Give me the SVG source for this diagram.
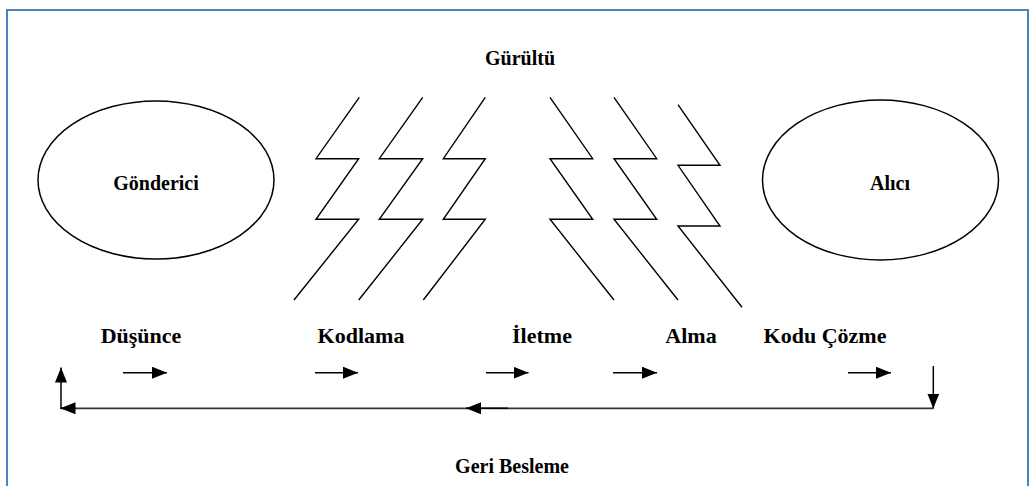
<svg xmlns="http://www.w3.org/2000/svg" width="1034" height="486" viewBox="0 0 1034 486">
<style>
  .lbl{font-family:"Liberation Serif","Times New Roman",serif;font-weight:bold;fill:#000;text-anchor:middle}
  .big{font-size:22px}
  .mid{font-size:20px}
  .node{fill:#fff;stroke:#000;stroke-width:1.5}
  .zz{fill:none;stroke:#000;stroke-width:1.4;stroke-linejoin:miter}
  .ar{fill:none;stroke:#000;stroke-width:1.5}
  .fb{fill:none;stroke:#333;stroke-width:1.8}
</style>
<defs>
  <marker id="ah" markerUnits="userSpaceOnUse" markerWidth="15" markerHeight="12" refX="15" refY="6" orient="auto">
    <path d="M0,0 L15,6 L0,12 z" fill="#000"/>
  </marker>
</defs>
<rect x="0" y="0" width="1034" height="486" fill="#fff"/>
<rect x="7" y="10" width="1021" height="490" fill="none" stroke="#4f81bd" stroke-width="2"/>

<text class="lbl mid" x="520" y="65">Gürültü</text>

<g id="gonderici">
  <ellipse class="node" cx="156" cy="180" rx="118" ry="79"/>
  <text class="lbl mid" x="156" y="190">Gönderici</text>
</g>
<g id="alici">
  <ellipse class="node" cx="880.5" cy="180" rx="118" ry="80"/>
  <text class="lbl mid" x="890" y="190">Alıcı</text>
</g>

<g id="gurultu">
  <polyline class="zz" points="359.3,97.3 316,158.7 358.7,158.7 316,219.3 358.7,219.3 294,300"/>
  <polyline class="zz" points="422.7,97.3 379.3,158.7 422.7,158.7 379.3,219.3 422.7,219.3 358.7,300"/>
  <polyline class="zz" points="485.3,97.3 443.3,158.7 485.3,158.7 443.3,219.3 485.3,219.3 423.3,300"/>
  <polyline class="zz" points="550,97.3 592.7,158.7 550,158.7 592.7,219.3 550,219.3 614,300"/>
  <polyline class="zz" points="614,97.3 656.7,158.7 614,158.7 656.7,219.3 614,219.3 678,300"/>
  <polyline class="zz" points="678,104.7 720,165.3 678,165.3 720,226 678,226 742,307.3"/>
</g>

<g id="dusunce"><text class="lbl big" x="141" y="343">Düşünce</text></g>
<g id="kodlama"><text class="lbl big" x="361" y="343">Kodlama</text></g>
<g id="iletme"><text class="lbl big" x="542" y="343">İletme</text></g>
<g id="alma"><text class="lbl big" x="691" y="343">Alma</text></g>
<g id="kodu-cozme"><text class="lbl big" x="825" y="343">Kodu Çözme</text></g>
<g id="geri-besleme"><text class="lbl mid" x="512" y="473">Geri Besleme</text></g>

<g id="connectors">
  <line class="ar" x1="123" y1="372.7" x2="167" y2="372.7" marker-end="url(#ah)"/>
  <line class="ar" x1="315" y1="372.7" x2="358" y2="372.7" marker-end="url(#ah)"/>
  <line class="ar" x1="486" y1="372.7" x2="528.5" y2="372.7" marker-end="url(#ah)"/>
  <line class="ar" x1="613" y1="372.7" x2="657" y2="372.7" marker-end="url(#ah)"/>
  <line class="ar" x1="848" y1="372.7" x2="891" y2="372.7" marker-end="url(#ah)"/>
  <line class="ar" x1="933.3" y1="366" x2="933.3" y2="408.5" marker-end="url(#ah)"/>
  <polyline class="fb" points="933.3,408.3 61,408.3"/>
  <line class="ar" x1="508" y1="408.3" x2="466" y2="408.3" marker-end="url(#ah)"/>
  <line class="ar" x1="61" y1="408.3" x2="75" y2="408.3"/>
  <line class="ar" x1="76" y1="408.3" x2="60.5" y2="408.3" marker-end="url(#ah)"/>
  <line class="ar" x1="61" y1="409" x2="61" y2="367.5" marker-end="url(#ah)"/>
</g>
</svg>
